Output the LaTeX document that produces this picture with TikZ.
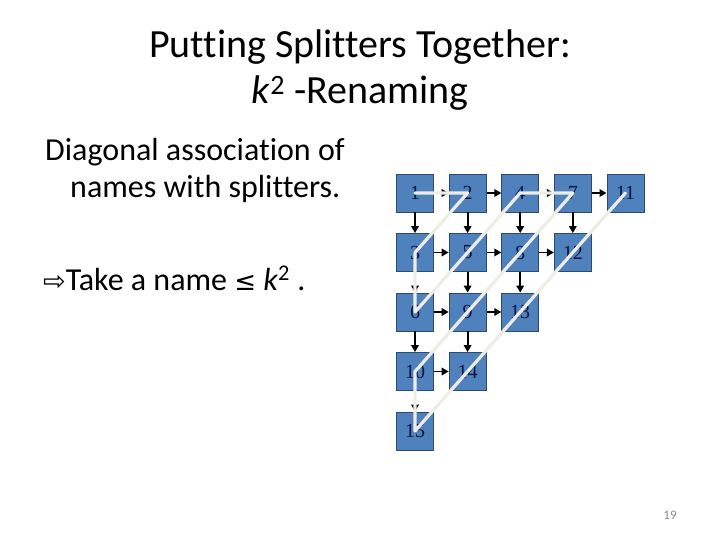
\documentclass[tikz,border=0pt]{standalone}
\usepackage{fontspec}
\setmainfont{Carlito}[Ligatures={NoCommon}]
\newfontfamily\boxfont{Liberation Serif}
\newfontfamily\symfont{DejaVu Sans}
\usetikzlibrary{arrows.meta}
\definecolor{boxblue}{HTML}{4F81BD}
\definecolor{boxedge}{HTML}{2E4A70}
\definecolor{numcol}{HTML}{0A1640}
\definecolor{pathcol}{HTML}{EEEDE4}
\definecolor{pagegray}{HTML}{8A8A8A}
\tikzset{
  splitter/.style={draw=boxedge, line width=0.8pt, fill=boxblue, minimum width=37pt, minimum height=38pt, inner sep=0pt, font=\boxfont\fontsize{20}{20}\selectfont, text=numcol},
  link/.style={draw=black, line width=1.8pt, -{Triangle[length=7pt,width=7.5pt]}},
  zigzag/.style={draw=pathcol, line width=3.2pt, line join=round, line cap=round},
  titletext/.style={font=\fontsize{40}{48}\selectfont, anchor=base, inner sep=0pt},
  bodytext/.style={font=\fontsize{32}{38}\selectfont, anchor=base west, inner sep=0pt}
}
\begin{document}
\begin{tikzpicture}[x=1pt,y=-1pt]
\useasboundingbox (0,0) rectangle (720,540);
% title
\node[titletext] (t1) at (360,58) {Putting Splitters Together:};
\node[titletext] (t2) at (360,104) {\textit{k}\textsuperscript{2} -Renaming};
% body
\node[bodytext] (l1) at (45,161) {Diagonal association of};
\node[bodytext] (l2) at (70,198) {names with splitters.};
\node[bodytext] (l3) at (43,290) {{\symfont\fontsize{27}{27}\selectfont ⇨}Take a name {\symfont\fontsize{26}{26}\selectfont ≤} \textit{k}\textsuperscript{2} .};
% splitters
\foreach \n/\r/\c in {1/1/1,2/1/2,4/1/3,7/1/4,11/1/5,
                       3/2/1,5/2/2,8/2/3,12/2/4,
                       6/3/1,9/3/2,13/3/3,
                       10/4/1,14/4/2,
                       15/5/1}
  \node[splitter] (b\n) at ({415+52.6*(\c-1)},{193+59.5*(\r-1)}) {\n};
% arrows
\foreach \a/\b in {1/2,2/4,4/7,7/11,3/5,5/8,8/12,6/9,9/13,10/14}
  \draw[link] (b\a.east) -- (b\b.west);
\foreach \a/\b in {1/3,3/6,6/10,10/15,2/5,5/9,9/14,4/8,8/13,7/12}
  \draw[link] (b\a.south) -- (b\b.north);
% diagonal naming path
\draw[zigzag] (b1.center) -- (b2.center) -- (b3.center) -- (b6.center) -- (b4.center) -- (b7.center) -- (b10.center) -- (b15.center) -- (b11.center);
% page number
\node[font=\fontsize{13}{13}\selectfont, text=pagegray, inner sep=0pt] (pg) at (670,515) {19};
\end{tikzpicture}
\end{document}
